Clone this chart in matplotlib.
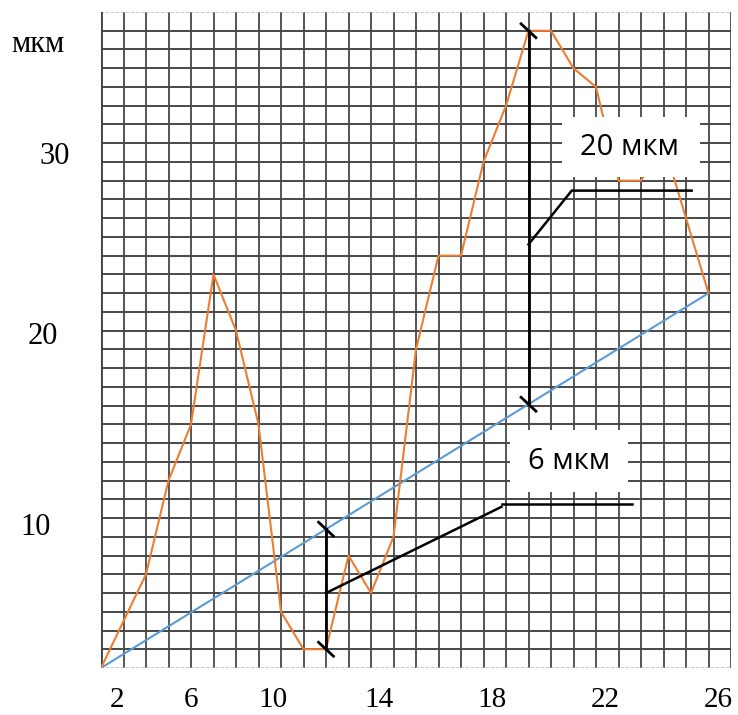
import matplotlib
matplotlib.use('Agg')
import matplotlib.pyplot as plt
import numpy as np

# profile points (grid units)
profile_x = [0, 2, 3, 4, 5, 6, 7, 8, 9, 10, 11, 12, 13, 14, 15, 16, 17, 18, 19, 20, 21, 22, 23, 24, 25, 26, 27]
profile_y = [0, 5, 10, 13, 21, 18, 13, 3, 1, 1, 6, 4, 7, 17, 22, 22, 27, 30, 34, 34, 32, 31, 26, 26, 28, 24, 20]

# mean line
mean_x = [0, 27]
mean_y = [0, 20]

x_labels = ['2', '6', '10', '14', '18', '22', '26']
y_labels = ['30', '20', '10']
unit_label = 'мкм'

# measured distances
meas_x = [19, 10]
meas_text = ['20 мкм', '6 мкм']

# label positions (layout)
x_label_pos = [0.73, 3.98, 7.64, 12.36, 17.37, 22.40, 27.42]
y_label_pos = [(-2.04, 27.3), (-2.6, 17.7), (-2.93, 7.5)]

fig = plt.figure(figsize=(7.38, 7.15), dpi=100)
ax = fig.add_axes([101 / 738, 47 / 715, 630 / 738, 656 / 715])
ax.set_xlim(0, 28)
ax.set_ylim(0, 35)
ax.set_xticks([])
ax.set_yticks([])
for s in ax.spines.values():
    s.set_visible(False)

# grid
for i in range(1, 29):
    ax.plot([i, i], [0, 35], color='#555555', lw=1.4, zorder=1, solid_capstyle='butt')
for j in range(1, 35):
    ax.plot([0, 28], [j, j], color='#474747', lw=1.4, zorder=1, solid_capstyle='butt')
ax.plot([0, 28], [35, 35], color='#c0c0c0', lw=1.2, ls=(0, (2, 1)), zorder=1)
ax.plot([0, 28], [0, 0], color='#c0c0c0', lw=1.2, ls=(0, (2, 1)), zorder=1)
ax.plot([0, 0], [0, 35], color='#404040', lw=2.0, zorder=1)

ax.plot(mean_x, mean_y, color='#5B9BD5', lw=1.5, zorder=3)
ax.plot(profile_x, profile_y, color='#ED7D31', lw=1.5, zorder=3)

# label boxes
ax.add_patch(plt.Rectangle((20.48, 26.2), 6.14, 3.2, facecolor='white', edgecolor='none', zorder=4))
ax.add_patch(plt.Rectangle((18.18, 9.4), 5.26, 3.3, facecolor='white', edgecolor='none', zorder=4))

sans = ['Open Sans', 'DejaVu Sans']
serif = ['Liberation Serif', 'DejaVu Serif']
ax.text(23.5, 27.75, meas_text[0], family=sans, fontsize=21, ha='center', va='center', zorder=5)
ax.text(20.8, 11.0, meas_text[1], family=sans, fontsize=21, ha='center', va='center', zorder=5)

# measurement lines
for k, mx in enumerate(meas_x):
    top = np.interp(mx, profile_x, profile_y)
    base = np.interp(mx, mean_x, mean_y)
    lo, hi = min(top, base), max(top, base)
    ax.plot([mx, mx], [lo, hi], color='black', lw=2, zorder=6)
    for yy in (lo, hi):
        ax.plot([mx - 0.33, mx + 0.33], [yy + 0.37, yy - 0.37], color='black', lw=2, zorder=6)

# leader lines
ax.plot([19, 20.92, 26.25], [22.6, 25.47, 25.47], color='black', lw=1.8, zorder=6)
ax.plot([10, 17.8], [4, 8.6], color='black', lw=1.8, zorder=6)
ax.plot([17.8, 23.6], [8.75, 8.75], color='black', lw=1.8, zorder=6)

# axis texts
for lab, pos in zip(x_labels, x_label_pos):
    ax.text(pos, -1.72, lab, family=serif, fontsize=21, ha='center', va='center', clip_on=False)
for lab, (px, py) in zip(y_labels, y_label_pos):
    ax.text(px, py, lab, family=serif, fontsize=22, ha='center', va='center', clip_on=False)
ax.text(-2.82, 33.25, unit_label, family=serif, fontsize=22, ha='center', va='center', clip_on=False)

fig.savefig('out.png', dpi=100)
